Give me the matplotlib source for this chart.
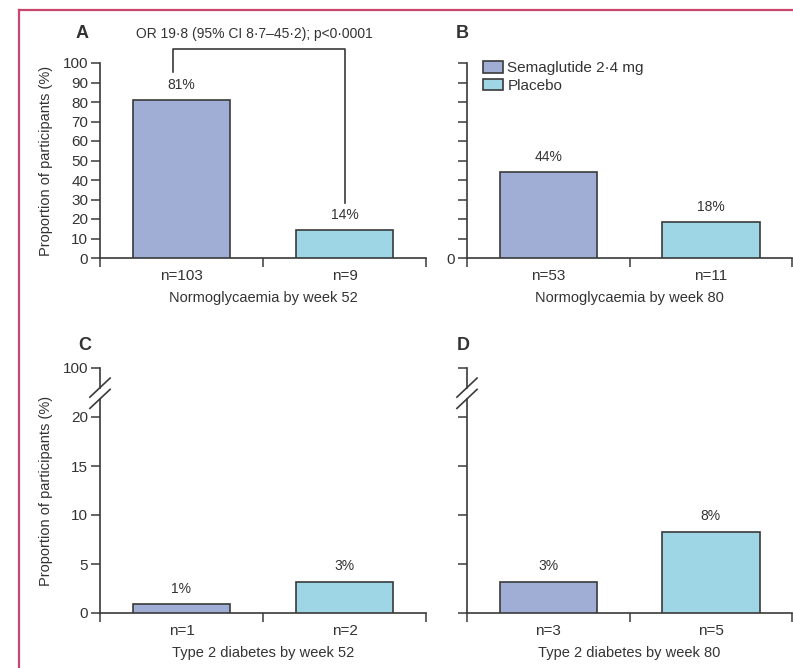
import matplotlib
matplotlib.use('Agg')
import matplotlib.pyplot as plt
from matplotlib.lines import Line2D
from matplotlib.patches import Patch

plt.rcParams['font.family'] = ['Liberation Sans', 'DejaVu Sans']

TXT = '#333333'
EDGE = '#3a3a3a'
FRAME = '#c9466e'

# ── data ─────────────────────────────────────────────────────
groups = ['Semaglutide 2·4 mg', 'Placebo']
bar_colors = ['#a0aed6', '#9ed6e6']

a_vals = [81.0, 14.3]
a_pct = ['81%', '14%']
a_n = ['n=103', 'n=9']

b_vals = [44.1, 18.3]
b_pct = ['44%', '18%']
b_n = ['n=53', 'n=11']

c_vals = [0.9, 3.2]
c_pct = ['1%', '3%']
c_n = ['n=1', 'n=2']

d_vals = [3.2, 8.3]
d_pct = ['3%', '8%']
d_n = ['n=3', 'n=5']

top_ticks = [0, 10, 20, 30, 40, 50, 60, 70, 80, 90, 100]
bot_ticks = [0, 5, 10, 15, 20, 25]
bot_ticklabels = ['0', '5', '10', '15', '20', '100']   # 25 stands in for 100 (broken axis)

W, H = 793, 668
fig = plt.figure(figsize=(W / 100, H / 100), dpi=100)
fig.patch.set_facecolor('white')


def px_axes(x0, y_top, x1, y_bot):
    return fig.add_axes([x0 / W, 1 - y_bot / H, (x1 - x0) / W, (y_bot - y_top) / H])


def draw_panel(ax, vals, pct, nlab, xlabel):
    x = [0, 1]
    ax.bar(x, vals, width=0.6, color=bar_colors, edgecolor=EDGE, linewidth=1.2, zorder=3)
    for xi, v, p in zip(x, vals, pct):
        ax.annotate(p, (xi, v), xytext=(0, 6), textcoords='offset points',
                    ha='center', va='bottom', fontsize=10, color=TXT)
    ax.set_xlim(-0.5, 1.5)
    ax.set_xticks(x)
    ax.set_xticklabels(nlab)
    ax.set_xticks([-0.5, 0.5, 1.5], minor=True)
    ax.tick_params(axis='x', which='major', length=0, pad=8, labelsize=11, colors=TXT)
    ax.tick_params(axis='x', which='minor', length=6.5, width=1.1, direction='out', color=EDGE)
    ax.tick_params(axis='y', length=6.5, width=1.1, direction='out', pad=2,
                   labelsize=11, colors=TXT, color=EDGE)
    ax.set_xlabel(xlabel, fontsize=10.5, color=TXT, labelpad=6)
    for s in ['top', 'right']:
        ax.spines[s].set_visible(False)
    for s in ['left', 'bottom']:
        ax.spines[s].set_linewidth(1.2)
        ax.spines[s].set_color(EDGE)
    ax.patch.set_alpha(0)


# ── Panel A ──────────────────────────────────────────────────
axA = px_axes(100, 63, 426, 258)
draw_panel(axA, a_vals, a_pct, a_n, 'Normoglycaemia by week 52')
axA.set_ylim(0, 100)
axA.set_yticks(top_ticks)
axA.set_ylabel('Proportion of participants (%)', fontsize=10.5, color=TXT)
axA.yaxis.set_label_coords(-0.145, 0.5)
# OR bracket
axA.plot([-0.05, -0.05, 1.0, 1.0], [95.5, 107, 107, 28], color=EDGE, lw=1.2,
         clip_on=False, zorder=4)
axA.text(0.445, 115, 'OR 19·8 (95% CI 8·7–45·2); p<0·0001', ha='center', va='center',
         fontsize=10, color=TXT, clip_on=False)

# ── Panel B ──────────────────────────────────────────────────
axB = px_axes(467, 63, 792, 258)
draw_panel(axB, b_vals, b_pct, b_n, 'Normoglycaemia by week 80')
axB.set_ylim(0, 100)
axB.set_yticks(top_ticks)
axB.set_yticklabels(['0'] + [''] * (len(top_ticks) - 1))
handles = [Patch(facecolor=c, edgecolor=EDGE, linewidth=1.2) for c in bar_colors]
axB.legend(handles, groups, loc='upper left', bbox_to_anchor=(0.03, 1.04),
           frameon=False, fontsize=11, handlelength=1.3, handleheight=0.75,
           handletextpad=0.3, labelspacing=0.25, borderaxespad=0,
           labelcolor=TXT)


# ── Panels C and D (broken y axis) ───────────────────────────
def broken_axis(ax):
    ax.set_ylim(0, 25)
    ax.set_yticks(bot_ticks)
    ax.spines['left'].set_visible(False)
    tr = ax.get_yaxis_transform()
    kw = dict(color=EDGE, lw=1.2, clip_on=False, transform=tr, zorder=4)
    ax.plot([0, 0], [0, 21.85], **kw)
    ax.plot([0, 0], [23.0, 25], **kw)
    dx, dy = 0.031, 0.97
    for yc in (23.0, 21.85):
        ax.plot([-dx, dx], [yc - dy, yc + dy], **kw)


axC = px_axes(100, 368, 426, 613)
draw_panel(axC, c_vals, c_pct, c_n, 'Type 2 diabetes by week 52')
broken_axis(axC)
axC.set_yticklabels(bot_ticklabels)
axC.set_ylabel('Proportion of participants (%)', fontsize=10.5, color=TXT)
axC.yaxis.set_label_coords(-0.145, 0.5)

axD = px_axes(467, 368, 792, 613)
draw_panel(axD, d_vals, d_pct, d_n, 'Type 2 diabetes by week 80')
broken_axis(axD)
axD.set_yticklabels([''] * len(bot_ticks))

# panel letters
for lab, (px, py) in {'A': (82, 33), 'B': (462, 33), 'C': (85, 345), 'D': (463, 345)}.items():
    fig.text(px / W, 1 - py / H, lab, ha='center', va='center', fontsize=13,
             fontweight='bold', color=TXT)

# page frame
fig.add_artist(Line2D([19 / W, 19 / W], [0, 1 - 10 / H], color=FRAME, lw=1.6))
fig.add_artist(Line2D([19 / W, 1], [1 - 10 / H, 1 - 10 / H], color=FRAME, lw=1.6))

fig.savefig('out.png', dpi=100, facecolor='white')
